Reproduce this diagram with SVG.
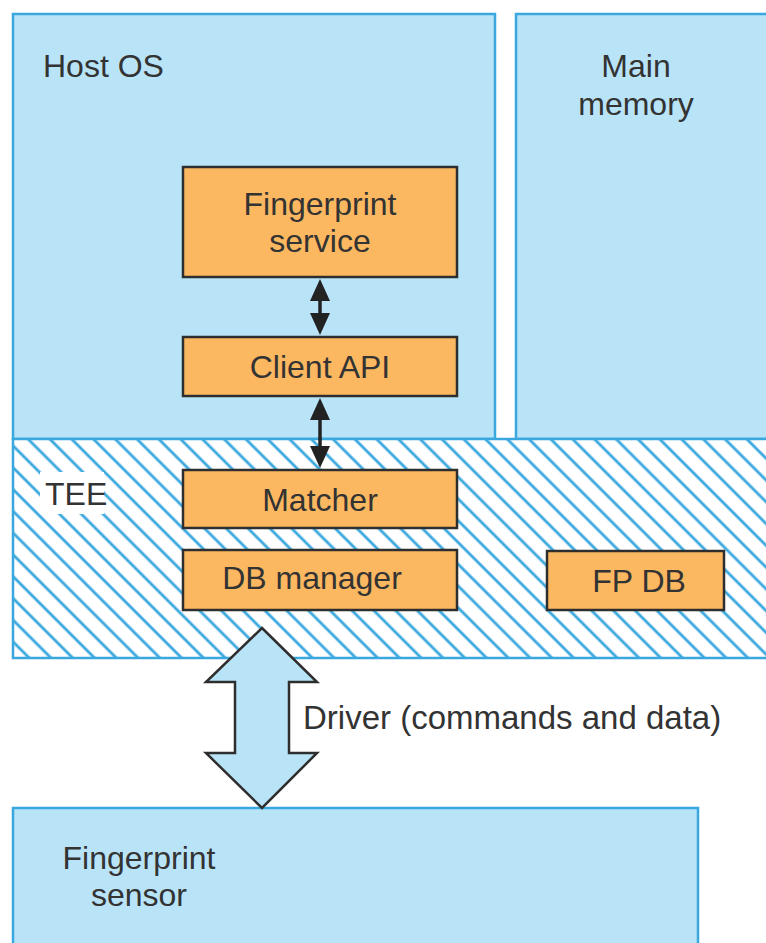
<svg xmlns="http://www.w3.org/2000/svg" width="766" height="943" viewBox="0 0 766 943">
<style>
.blue{fill:#b9e4f8;stroke:#3aa8de;stroke-width:2.5}
.org{fill:#fcb860;stroke:#2e2e2e;stroke-width:2.5}
.t{font-family:"Liberation Sans",Arial,sans-serif;font-size:32px;fill:#333}
.c{text-anchor:middle}
.ar{fill:#222}
</style>
<defs>
<pattern id="hatch" patternUnits="userSpaceOnUse" width="15.4" height="20" patternTransform="rotate(-45)">
<rect width="15.4" height="20" fill="#fff"/>
<line x1="2" y1="0" x2="2" y2="20" stroke="#3aa8de" stroke-width="2.8"/>
</pattern>
</defs>
<g id="hostos">
<rect class="blue" x="13" y="14" width="482" height="425"/>
<text class="t" x="43" y="77">Host OS</text>
</g>
<g id="mainmemory">
<rect class="blue" x="516" y="14" width="260" height="425"/>
<text class="t c" x="636" y="77">Main</text>
<text class="t c" x="636" y="115">memory</text>
</g>
<g id="tee">
<rect x="13" y="439" width="763" height="219" fill="url(#hatch)" stroke="#3aa8de" stroke-width="2.5"/>
<rect x="40" y="472" width="64" height="42" fill="#fff"/>
<text class="t" x="45" y="505">TEE</text>
</g>
<g id="sensor">
<rect class="blue" x="13" y="808" width="685" height="150"/>
<text class="t c" x="139" y="869">Fingerprint</text>
<text class="t c" x="139" y="906">sensor</text>
</g>
<g id="fpservice">
<rect class="org" x="183" y="167" width="274" height="110"/>
<text class="t c" x="320" y="215">Fingerprint</text>
<text class="t c" x="320" y="252">service</text>
</g>
<g id="clientapi">
<rect class="org" x="183" y="337" width="274" height="59"/>
<text class="t c" x="320" y="378">Client API</text>
</g>
<g id="matcher">
<rect class="org" x="183" y="470" width="274" height="58"/>
<text class="t c" x="320" y="511">Matcher</text>
</g>
<g id="dbmanager">
<rect class="org" x="183" y="550" width="274" height="60"/>
<text class="t c" x="312" y="589">DB manager</text>
</g>
<g id="fpdb">
<rect class="org" x="547" y="551" width="177" height="59"/>
<text class="t c" x="639" y="592">FP DB</text>
</g>
<g id="connectors">
<line x1="320" y1="290" x2="320" y2="324" stroke="#222" stroke-width="3.5"/>
<path class="ar" d="M320,279 L330,301 L310,301 Z"/>
<path class="ar" d="M320,335 L330,313 L310,313 Z"/>
<line x1="320" y1="410" x2="320" y2="456" stroke="#222" stroke-width="3.5"/>
<path class="ar" d="M320,398 L330,420 L310,420 Z"/>
<path class="ar" d="M320,468 L330,446 L310,446 Z"/>
<path d="M262,628 L317,682 L289,682 L289,753 L317,753 L262,808 L206,753 L235,753 L235,682 L206,682 Z" fill="#b9e4f8" stroke="#2e2e2e" stroke-width="2.5" stroke-linejoin="miter"/>
<text class="t" x="303" y="729" style="font-size:33px">Driver (commands and data)</text>
</g>
</svg>
